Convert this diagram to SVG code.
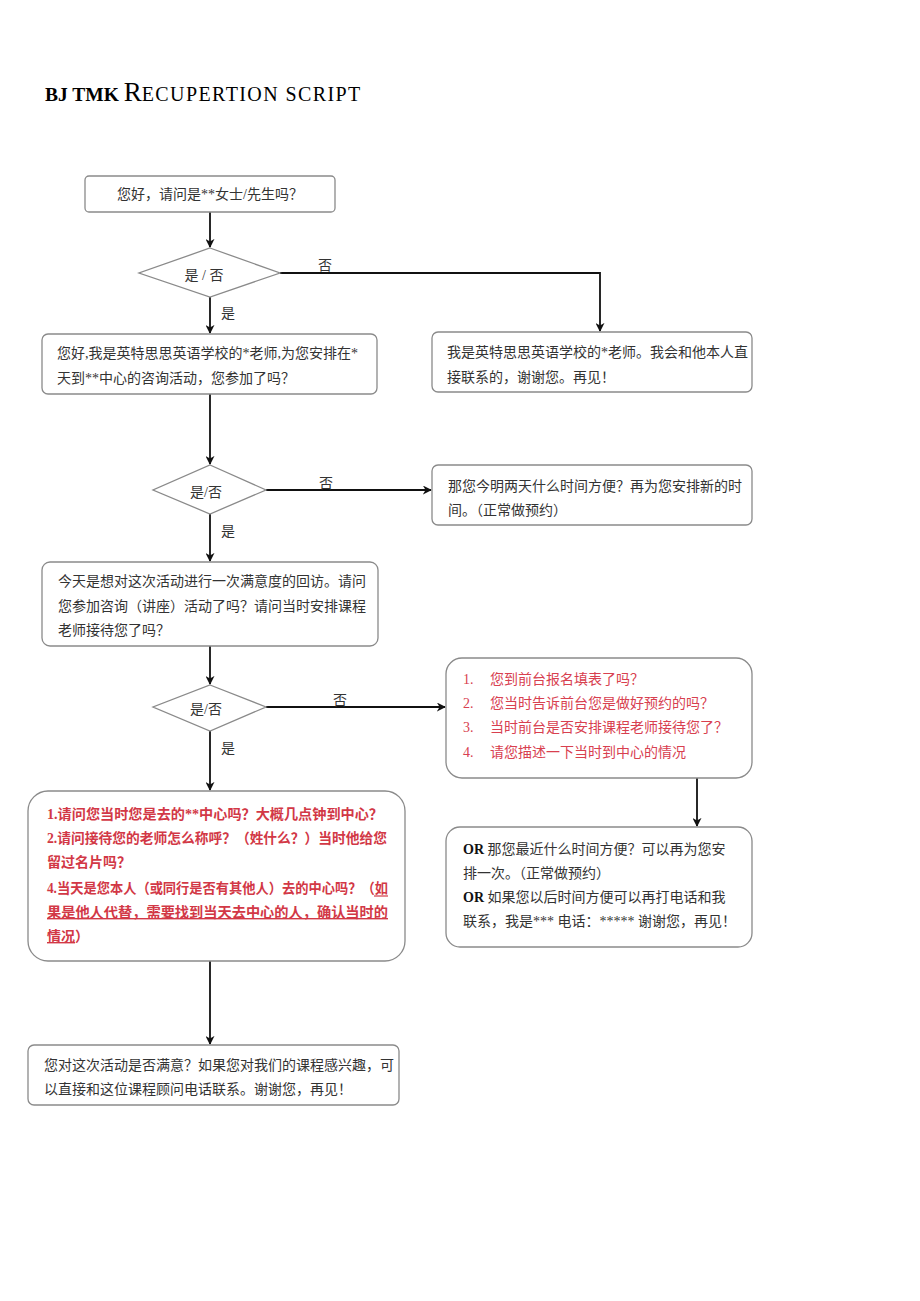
<svg xmlns="http://www.w3.org/2000/svg" width="920" height="1301" viewBox="0 0 920 1301">
<style>
.bg{fill:#fff}
.box{fill:#fff;stroke:#8a8a8a;stroke-width:1.3}
.t{font-family:"Liberation Serif","Noto Sans CJK SC",serif;font-size:14px;fill:#333}
.r{font-family:"Liberation Serif","Noto Sans CJK SC",serif;font-size:14px;fill:#d8404f}
.rb{font-family:"Liberation Serif","Noto Sans CJK SC",serif;font-size:14px;fill:#d23846;font-weight:bold}
.lbl{font-family:"Liberation Serif","Noto Sans CJK SC",serif;font-size:14px;fill:#333}
.ln{fill:none;stroke:#111;stroke-width:1.8}
.ul{stroke:#d23846;stroke-width:1.2}
.title{font-family:"Liberation Serif",serif;fill:#000}
</style>
<defs>
<marker id="ah" viewBox="0 0 10 10" refX="9" refY="5" markerWidth="9" markerHeight="9" orient="auto" markerUnits="userSpaceOnUse">
<path d="M0,0 L10,5 L0,10 L3,5 z" fill="#111"/>
</marker>
</defs>
<rect class="bg" x="0" y="0" width="920" height="1301"/>
<text class="title" x="45" y="101"><tspan font-weight="bold" font-size="19.5">BJ TMK </tspan><tspan font-size="27">R</tspan><tspan font-size="20" letter-spacing="1.4">ECUPERTION SCRIPT</tspan></text>

<g id="connectors">
<line class="ln" x1="210" y1="212" x2="210" y2="247" marker-end="url(#ah)"/>
<polyline class="ln" points="280,273 600,273 600,331" marker-end="url(#ah)"/>
<line class="ln" x1="210" y1="297" x2="210" y2="333" marker-end="url(#ah)"/>
<line class="ln" x1="210" y1="394" x2="210" y2="464" marker-end="url(#ah)"/>
<line class="ln" x1="266" y1="490" x2="431" y2="490" marker-end="url(#ah)"/>
<line class="ln" x1="210" y1="514" x2="210" y2="561" marker-end="url(#ah)"/>
<line class="ln" x1="210" y1="646" x2="210" y2="684" marker-end="url(#ah)"/>
<line class="ln" x1="266" y1="707" x2="445" y2="707" marker-end="url(#ah)"/>
<line class="ln" x1="210" y1="731" x2="210" y2="790" marker-end="url(#ah)"/>
<line class="ln" x1="697" y1="778" x2="697" y2="826" marker-end="url(#ah)"/>
<line class="ln" x1="210" y1="961" x2="210" y2="1044" marker-end="url(#ah)"/>
<text class="lbl" x="318" y="270">否</text>
<text class="lbl" x="221" y="318">是</text>
<text class="lbl" x="319" y="488">否</text>
<text class="lbl" x="221" y="536">是</text>
<text class="lbl" x="333" y="705">否</text>
<text class="lbl" x="221" y="753">是</text>
</g>

<g id="n1">
<rect class="box" x="85" y="176" width="250" height="36" rx="4"/>
<text class="t" x="210" y="199" text-anchor="middle">您好，请问是**女士/先生吗？</text>
</g>
<g id="d1">
<polygon class="box" points="210,248 280,273 210,297 139,273"/>
<text class="t" x="204" y="280" text-anchor="middle">是 / 否</text>
</g>
<g id="n2">
<rect class="box" x="42" y="334" width="335" height="60" rx="6"/>
<text class="t" x="57" y="358">您好,我是英特思思英语学校的*老师,为您安排在*</text>
<text class="t" x="57" y="383">天到**中心的咨询活动，您参加了吗？</text>
</g>
<g id="n3">
<rect class="box" x="432" y="332" width="320" height="60" rx="6"/>
<text class="t" x="447" y="357">我是英特思思英语学校的*老师。我会和他本人直</text>
<text class="t" x="447" y="382">接联系的，谢谢您。再见！</text>
</g>
<g id="d2">
<polygon class="box" points="210,465 266,490 210,514 153,490"/>
<text class="t" x="206" y="497" text-anchor="middle">是/否</text>
</g>
<g id="n4">
<rect class="box" x="432" y="465" width="320" height="60" rx="6"/>
<text class="t" x="448" y="491">那您今明两天什么时间方便？再为您安排新的时</text>
<text class="t" x="448" y="515">间。（正常做预约）</text>
</g>
<g id="n5">
<rect class="box" x="42" y="562" width="336" height="84" rx="8"/>
<text class="t" x="58" y="586">今天是想对这次活动进行一次满意度的回访。请问</text>
<text class="t" x="58" y="611">您参加咨询（讲座）活动了吗？请问当时安排课程</text>
<text class="t" x="58" y="635">老师接待您了吗？</text>
</g>
<g id="d3">
<polygon class="box" points="210,685 266,707 210,731 153,707"/>
<text class="t" x="206" y="714" text-anchor="middle">是/否</text>
</g>
<g id="n6">
<rect class="box" x="446" y="658" width="306" height="120" rx="16"/>
<text class="r" x="463" y="684">1.</text><text class="r" x="490" y="684">您到前台报名填表了吗？</text>
<text class="r" x="463" y="708">2.</text><text class="r" x="490" y="708">您当时告诉前台您是做好预约的吗？</text>
<text class="r" x="463" y="732">3.</text><text class="r" x="490" y="732">当时前台是否安排课程老师接待您了？</text>
<text class="r" x="463" y="757">4.</text><text class="r" x="490" y="757">请您描述一下当时到中心的情况</text>
</g>
<g id="n7">
<rect class="box" x="446" y="827" width="306" height="120" rx="14"/>
<text class="t" x="463" y="854"><tspan font-weight="bold" fill="#111">OR</tspan> 那您最近什么时间方便？可以再为您安</text>
<text class="t" x="463" y="878">排一次。（正常做预约）</text>
<text class="t" x="463" y="902"><tspan font-weight="bold" fill="#111">OR</tspan> 如果您以后时间方便可以再打电话和我</text>
<text class="t" x="463" y="926">联系，我是*** 电话：***** 谢谢您，再见！</text>
</g>
<g id="n8">
<rect class="box" x="28" y="791" width="377" height="170" rx="20"/>
<text class="rb" x="47" y="819" textLength="336" lengthAdjust="spacingAndGlyphs">1.请问您当时您是去的**中心吗？大概几点钟到中心？</text>
<text class="rb" x="47" y="843" textLength="340" lengthAdjust="spacingAndGlyphs">2.请问接待您的老师怎么称呼？（姓什么？）当时他给您</text>
<text class="rb" x="47" y="867">留过名片吗？</text>
<text class="rb" x="47" y="893" textLength="341" lengthAdjust="spacingAndGlyphs">4.当天是您本人（或同行是否有其他人）去的中心吗？（如</text>
<line class="ul" x1="374" y1="896" x2="388" y2="896"/>
<text class="rb" x="47" y="917" text-decoration="underline" textLength="341" lengthAdjust="spacingAndGlyphs">果是他人代替，需要找到当天去中心的人，确认当时的</text>
<text class="rb" x="47" y="941"><tspan text-decoration="underline">情况</tspan>）</text>
</g>
<g id="n9">
<rect class="box" x="28" y="1045" width="371" height="60" rx="6"/>
<text class="t" x="44" y="1070">您对这次活动是否满意？如果您对我们的课程感兴趣，可</text>
<text class="t" x="44" y="1094">以直接和这位课程顾问电话联系。谢谢您，再见！</text>
</g>
</svg>
